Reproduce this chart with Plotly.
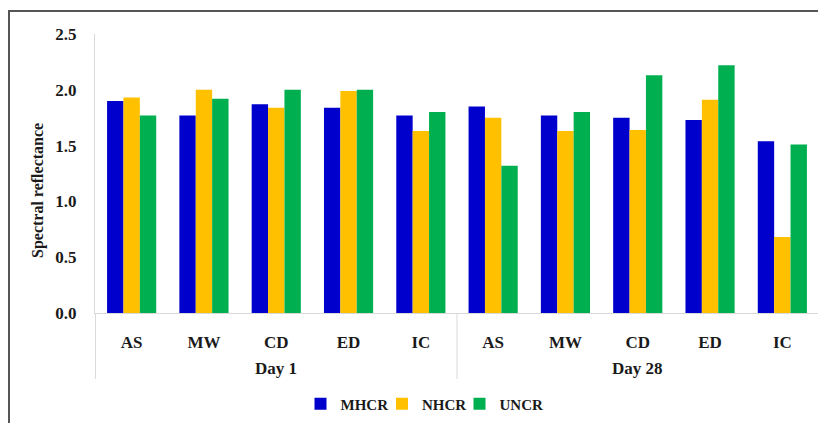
import plotly.graph_objects as go

days = ["Day 1", "Day 28"]
methods = ["AS", "MW", "CD", "ED", "IC"]
cats = [f"{d}|{m}" for d in days for m in methods]
tick_labels = methods * 2

mhcr = [1.90, 1.77, 1.87, 1.84, 1.77, 1.85, 1.77, 1.75, 1.73, 1.54]
nhcr = [1.93, 2.00, 1.84, 1.99, 1.63, 1.75, 1.63, 1.64, 1.91, 0.68]
uncr = [1.77, 1.92, 2.00, 2.00, 1.80, 1.32, 1.80, 2.13, 2.22, 1.51]

series = [("MHCR", mhcr, "#0000CC"), ("NHCR", nhcr, "#FFC000"), ("UNCR", uncr, "#00B050")]

FONT = "Liberation Serif"
TXT = "#1a1a1a"
AX = "#d9d9d9"

# page body adds an 8px offset; targets below are in screenshot pixels
OFF = 8
W, H = 826, 423
L, T = 95 - OFF, 34 - OFF
R = W - (819 - OFF)
B = H - (313 - OFF)
pw, ph = W - L - R, H - T - B


def py(px):
    return 1 - (px - OFF - T) / ph


def px_(x):
    return (x - OFF - L) / pw


legend_ids = ["legend", "legend2", "legend3"]
legend_centers = [347, 427, 504]

fig = go.Figure()
for (name, vals, col), lid in zip(series, legend_ids):
    fig.add_trace(go.Bar(
        x=cats, y=vals, name=name, legend=lid,
        marker=dict(color=col, line=dict(width=0)),
    ))

shapes = [
    dict(type="rect", xref="paper", yref="paper",
         x0=px_(9), x1=px_(860), y0=py(460), y1=py(11),
         line=dict(color="#555555", width=2), layer="above"),
]
n = len(cats)
for xb in [-0.5, len(methods) - 0.5, n - 0.5]:
    shapes.append(dict(type="line", xref="x", yref="paper",
                       x0=xb, x1=xb, y0=0, y1=py(379),
                       line=dict(color=AX, width=1)))

annotations = [
    dict(text=d, xref="x", yref="paper", x=cats[i * len(methods) + 2], y=py(368),
         showarrow=False, xanchor="center", yanchor="middle",
         font=dict(family=FONT, size=17, color=TXT, weight="bold"))
    for i, d in enumerate(days)
]
annotations.append(dict(
    text="Spectral reflectance", xref="paper", yref="paper",
    x=px_(38), y=py(191), textangle=-90, showarrow=False,
    xanchor="center", yanchor="middle",
    font=dict(family=FONT, size=16, color=TXT, weight="bold")))

legend_common = dict(
    orientation="h", yanchor="middle", y=py(404), xanchor="center",
    font=dict(family=FONT, size=15, color=TXT, weight="bold"),
    itemwidth=30, bgcolor="rgba(0,0,0,0)",
)

fig.update_layout(
    width=W, height=H,
    margin=dict(l=L, r=R, t=T, b=B, autoexpand=False),
    paper_bgcolor="white", plot_bgcolor="white",
    barmode="group", bargap=0.32, bargroupgap=0,
    font=dict(family=FONT, size=17, color=TXT),
    showlegend=True,
    legend=dict(x=px_(legend_centers[0]), **legend_common),
    legend2=dict(x=px_(legend_centers[1]), **legend_common),
    legend3=dict(x=px_(legend_centers[2]), **legend_common),
    shapes=shapes,
    annotations=annotations,
)

fig.update_yaxes(
    range=[0, 2.5], tickvals=[0, 0.5, 1.0, 1.5, 2.0, 2.5], tickformat=".1f",
    showgrid=False, zeroline=False, showline=True, linecolor=AX, linewidth=1,
    ticks="", ticklabelstandoff=14, automargin=False,
    tickfont=dict(family=FONT, size=17, color=TXT, weight="bold"),
)
fig.update_xaxes(
    type="category", tickmode="array", tickvals=cats, ticktext=tick_labels,
    showgrid=False, showline=True, linecolor=AX, linewidth=1,
    ticks="", ticklabelstandoff=14, automargin=False,
    tickfont=dict(family=FONT, size=17, color=TXT, weight="bold"),
)

fig.write_html("out.html")
